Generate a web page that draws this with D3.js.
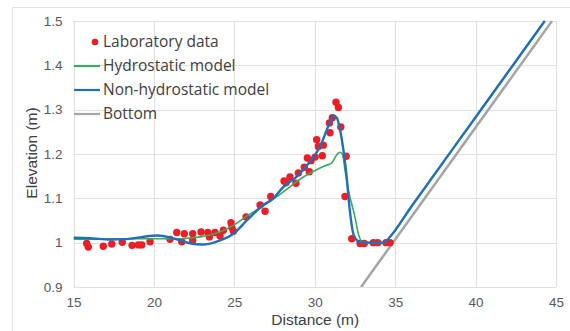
<!DOCTYPE html>
<html>
<head>
<meta charset="utf-8">
<script src="https://cdn.jsdelivr.net/npm/d3@7"></script>
<style>
  body { margin: 0; background: #fff; }
  svg { display: block; }
</style>
</head>
<body>
<div id="chart"></div>
<script>
// lab measurements (distance m, elevation m)
const labX = [15.82, 15.92, 16.85, 17.38, 18.03, 18.64, 19.03, 19.24, 19.76, 21.0, 21.42, 21.73, 21.89,
  22.41, 22.41, 22.93, 23.35, 23.45, 23.80, 24.11, 24.32, 24.79, 24.84, 24.94, 25.73, 26.60, 26.91, 27.26,
  28.09, 28.21, 28.46, 28.83, 28.98, 29.35, 29.54, 29.66, 29.77, 30.02, 30.12, 30.22, 30.47, 30.53,
  30.91, 30.95, 31.09, 31.32, 31.47, 31.62, 31.95, 31.88, 32.30, 32.82, 33.08, 33.64, 33.92, 34.43, 34.68];
const labY = [0.998, 0.990, 0.992, 0.997, 1.001, 0.994, 0.995, 0.995, 1.002, 1.0075, 1.023, 1.002, 1.020,
  1.020, 1.005, 1.024, 1.023, 1.013, 1.023, 1.015, 1.028, 1.045, 1.034, 1.026, 1.058, 1.085, 1.071, 1.104,
  1.139, 1.135, 1.148, 1.134, 1.157, 1.170, 1.191, 1.160, 1.185, 1.193, 1.232, 1.217, 1.196, 1.220,
  1.270, 1.248, 1.282, 1.317, 1.305, 1.261, 1.195, 1.104, 1.009, 0.998, 0.998, 1.0, 1.0, 1.0, 1.0];

// hydrostatic model
const hydroX = [15, 17, 19, 21, 21.62, 22.87, 24.11, 24.94, 25.77, 26.8, 27.64, 28.46, 28.88, 29.71, 30.53,
  31.06, 31.37, 31.57, 31.74, 31.88, 32.09, 32.5, 32.71, 32.99, 33.3, 34.3, 34.6, 36, 40, 44.3];
const hydroY = [1.008, 1.008, 1.009, 1.009, 1.009, 1.013, 1.024, 1.039, 1.06, 1.083, 1.104, 1.126, 1.138, 1.157, 1.172,
  1.18, 1.198, 1.204, 1.198, 1.164, 1.119, 1.058, 1.02, 1.001, 1.0, 1.0, 1.01, 1.081, 1.283, 1.5];

// non-hydrostatic model
const nonHydroX = [15, 16, 17.3, 18.3, 19.3, 20.2, 21, 21.62, 22.3, 22.97, 23.5, 24.11, 24.94, 25.77, 26.8, 27.43,
  28.05, 28.88, 29.71, 30.33, 30.85, 31.16, 31.37, 31.57, 31.78, 31.95, 32.2, 32.4, 32.71, 33.0, 34.3, 34.6, 36, 40, 44.3];
const nonHydroY = [1.011, 1.01, 1.007, 1.008, 1.013, 1.016, 1.012, 1.005, 0.998, 0.996, 0.998, 1.005, 1.02, 1.05, 1.085, 1.10,
  1.126, 1.149, 1.183, 1.217, 1.263, 1.287, 1.282, 1.255, 1.21, 1.16, 1.066, 1.02, 1.003, 1.0, 1.0, 1.01, 1.081, 1.283, 1.5];

// bottom slope
const bottomX = [32.88, 44.75];
const bottomY = [0.9, 1.5];

const xTicks = [15, 20, 25, 30, 35, 40, 45];
const yTicks = [0.9, 1.0, 1.1, 1.2, 1.3, 1.4, 1.5];

const legendNames = ["Laboratory data", "Hydrostatic model", "Non-hydrostatic model", "Bottom"];

const W = 570, H = 331;
const plot = { left: 73.5, right: 556, top: 21, bottom: 287 };

const svg = d3.select("#chart").append("svg")
  .attr("width", W).attr("height", H);

// outer chart border
svg.append("rect")
  .attr("x", 12.5).attr("y", 7.5)
  .attr("width", W).attr("height", H)
  .attr("fill", "none").attr("stroke", "#e3e3e3");

const x = d3.scaleLinear().domain([15, 45]).range([plot.left, plot.right]);
const y = d3.scaleLinear().domain([0.9, 1.5]).range([plot.bottom, plot.top]);

// gridlines
svg.append("g").selectAll("line").data(yTicks).enter().append("line")
  .attr("x1", plot.left).attr("x2", plot.right)
  .attr("y1", d => Math.round(y(d)) + 0.5).attr("y2", d => Math.round(y(d)) + 0.5)
  .attr("stroke", "#e0e0e0");
svg.append("g").selectAll("line").data(xTicks).enter().append("line")
  .attr("y1", plot.top).attr("y2", plot.bottom)
  .attr("x1", d => Math.round(x(d)) + 0.5).attr("x2", d => Math.round(x(d)) + 0.5)
  .attr("stroke", "#e0e0e0");

// axes (tick labels only)
const xAxis = svg.append("g")
  .attr("transform", `translate(0, ${plot.bottom})`)
  .call(d3.axisBottom(x).tickValues(xTicks).tickSize(0).tickPadding(10).tickFormat(d3.format("d")));
const yAxis = svg.append("g")
  .attr("transform", `translate(${plot.left}, 0)`)
  .call(d3.axisLeft(y).tickValues(yTicks).tickSize(0).tickPadding(11).tickFormat(d => d === 1 ? "1" : d3.format(".1f")(d)));
[xAxis, yAxis].forEach(a => {
  a.select(".domain").remove();
  a.selectAll("text")
    .attr("fill", "#595959")
    .style("font-family", "'Liberation Sans', Arial, sans-serif")
    .style("font-size", "13.5px");
});

// axis titles
svg.append("text")
  .attr("x", (plot.left + plot.right) / 2 + 0.5).attr("y", 325)
  .attr("text-anchor", "middle")
  .attr("fill", "#404040")
  .style("font-family", "'Liberation Sans', Arial, sans-serif")
  .style("font-size", "15.5px")
  .text("Distance (m)");
svg.append("text")
  .attr("transform", "translate(37, 153) rotate(-90)")
  .attr("text-anchor", "middle")
  .attr("fill", "#404040")
  .style("font-family", "'Liberation Sans', Arial, sans-serif")
  .style("font-size", "15.5px")
  .text("Elevation (m)");

svg.append("clipPath").attr("id", "clip")
  .append("rect")
  .attr("x", plot.left).attr("y", plot.top - 1)
  .attr("width", plot.right - plot.left).attr("height", plot.bottom - plot.top + 1);

const g = svg.append("g").attr("clip-path", "url(#clip)");

const straight = d3.line()
  .x(d => x(d[0]))
  .y(d => y(d[1]));
const smooth = d3.line()
  .x(d => x(d[0]))
  .y(d => y(d[1]))
  .curve(d3.curveMonotoneX);

g.append("path")
  .datum(d3.zip(bottomX, bottomY))
  .attr("d", straight)
  .attr("fill", "none").attr("stroke", "#a5a5a5").attr("stroke-width", 2.5);

// dots
g.selectAll("circle").data(d3.zip(labX, labY)).enter().append("circle")
  .attr("cx", d => x(d[0])).attr("cy", d => y(d[1]))
  .attr("r", 3.7).attr("fill", "#ee1c24");

g.append("path")
  .datum(d3.zip(hydroX, hydroY))
  .attr("d", smooth)
  .attr("fill", "none").attr("stroke", "#3aaa5c").attr("stroke-width", 1.6);

g.append("path")
  .datum(d3.zip(nonHydroX, nonHydroY))
  .attr("d", smooth)
  .attr("fill", "none").attr("stroke", "#1f6fbd").attr("stroke-width", 2.4);

// legend
const legendColors = ["#ee1c24", "#3aaa5c", "#1f6fbd", "#a5a5a5"];
const legend = svg.append("g");
legendNames.forEach((name, i) => {
  const ly = 42 + i * 24;
  if (i === 0) {
    legend.append("circle").attr("cx", 95).attr("cy", ly).attr("r", 3.3).attr("fill", legendColors[i]);
  } else {
    legend.append("line")
      .attr("x1", 74).attr("x2", 100).attr("y1", ly).attr("y2", ly)
      .attr("stroke", legendColors[i]).attr("stroke-width", 2.2);
  }
  legend.append("text")
    .attr("x", 103).attr("y", ly).attr("dy", "0.35em")
    .attr("fill", "#404040")
    .style("font-family", "'Open Sans', sans-serif")
    .style("font-size", "15.5px")
    .text(name);
});
</script>
</body>
</html>
